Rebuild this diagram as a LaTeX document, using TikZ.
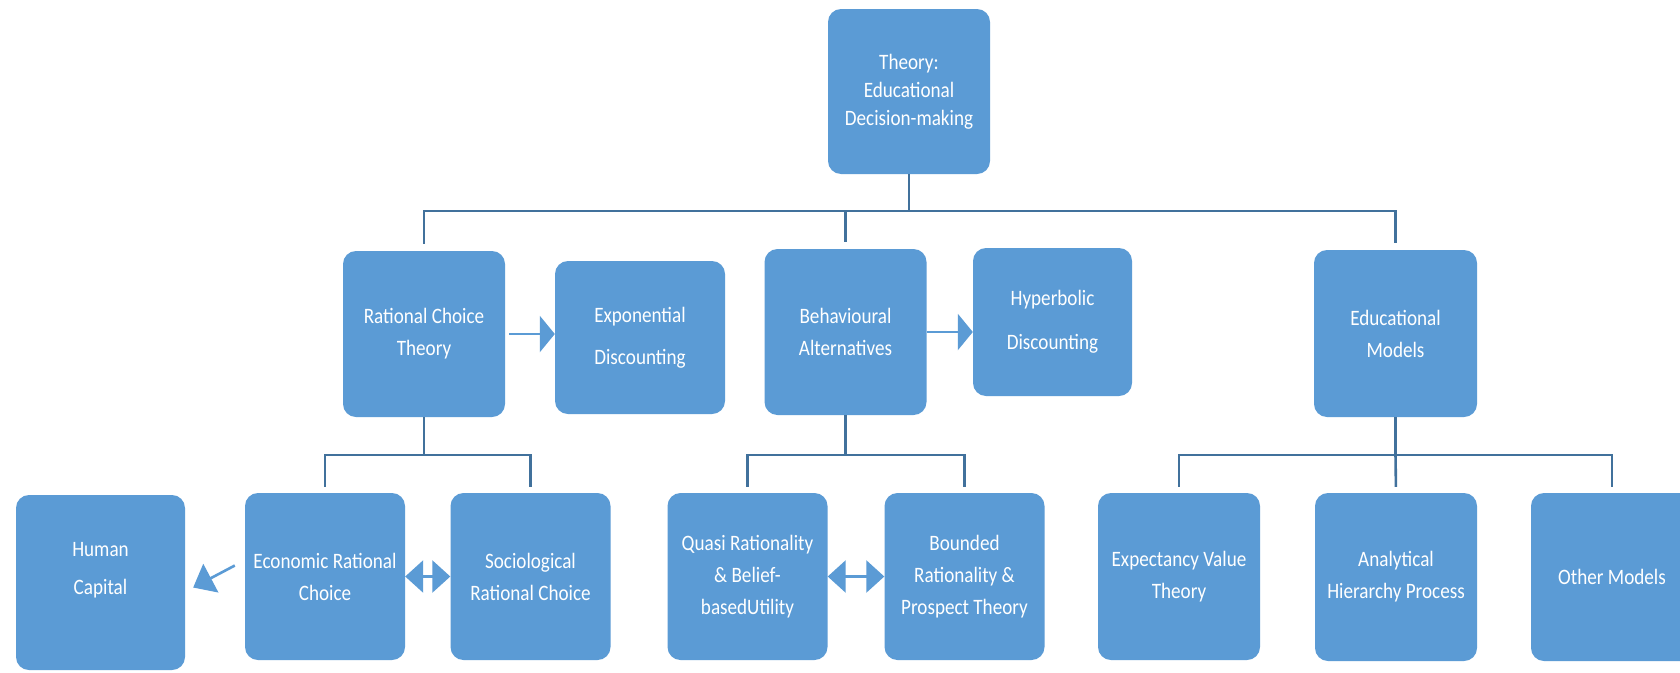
\documentclass[tikz,border=0pt]{standalone}
\usepackage{fontspec}
\setmainfont{Carlito}[FakeStretch=0.87]
\definecolor{boxblue}{RGB}{91,155,213}
\definecolor{linkblue}{RGB}{65,113,156}
\usetikzlibrary{arrows.meta,positioning,calc}

\begin{document}
\begin{tikzpicture}[x=1pt,y=-1pt,
  box/.style={rectangle,rounded corners=13pt,fill=boxblue,text=white,align=center,
    minimum width=162pt,minimum height=166pt,inner sep=0pt,font=\fontsize{22}{32}\selectfont},
  link/.style={draw=linkblue,line width=2.6pt},
  flow/.style={draw=boxblue,line width=2.6pt,-{Triangle[width=36pt,length=15pt]}},
  both/.style={draw=boxblue,line width=2.6pt,{Triangle[width=32pt,length=18pt]}-{Triangle[width=32pt,length=18pt]}}]
\fill[white] (0,0) rectangle (1680,672);
\useasboundingbox (0,0) rectangle (1680,672);

\node[box,minimum height=165pt,font=\fontsize{22}{28}\selectfont] (theory) at (909,91.5) {Theory:\\Educational\\Decision-making};

\node[box] (rct) at (424,334) {Rational Choice\\Theory};
\node[box,minimum width=170pt,minimum height=153pt] (expo) at (640,337.5) {Exponential\\[10pt]Discounting};
\node[box] (behav) at (845.5,332) {Behavioural\\Alternatives};
\node[box,minimum width=159pt,minimum height=148pt] (hyper) at (1052.5,322) {Hyperbolic\\[12pt]Discounting};
\node[box,minimum width=163pt,minimum height=167pt] (edmod) at (1395.5,333.5) {Educational\\Models};

\node[box,minimum width=169pt,minimum height=175pt] (human) at (100.5,582.5) {Human\\[6pt]Capital\\[-4pt]\mbox{}};
\node[box,minimum width=160pt,minimum height=167pt] (econ) at (325,576.5) {Economic Rational\\Choice};
\node[box,minimum width=160pt,minimum height=167pt] (socio) at (530.5,576.5) {Sociological\\Rational Choice};
\node[box,minimum width=160pt,minimum height=167pt] (quasi) at (747.5,576.5) {Quasi Rationality\\\& Belief-\\basedUtility};
\node[box,minimum width=160pt,minimum height=167pt] (bounded) at (964.5,576.5) {Bounded\\Rationality \&\\Prospect Theory};
\node[box,minimum height=167pt] (expect) at (1179,576.5) {Expectancy Value\\Theory};
\node[box,minimum height=168pt] (ahp) at (1396,577) {Analytical\\Hierarchy Process};
\node[box,minimum height=168pt] (other) at (1612,577) {Other Models};

\coordinate (topbus) at (909,211);
\coordinate (lowbus) at (0,455);

\draw[link] (theory.south) -- (topbus);
\draw[link,shorten <=7pt,shorten >=7pt] (rct.north) |- (topbus) -| (edmod.north);
\draw[link,shorten >=7pt] (behav.north |- topbus) -- (behav.north);

\draw[link] (rct.south) -- (rct.south |- lowbus);
\draw[link,shorten <=6pt,shorten >=6pt] (econ.north) |- (lowbus -| rct.south) -| (socio.north);
\draw[link] (behav.south) -- (behav.south |- lowbus);
\draw[link,shorten <=6pt,shorten >=6pt] (quasi.north) |- (lowbus -| behav.south) -| (bounded.north);
\draw[link] (edmod.south) -- (edmod.south |- lowbus);
\draw[link,shorten <=6pt,shorten >=6pt] (expect.north) |- (lowbus -| edmod.south) -| (other.north);
\draw[link,shorten >=6pt] (edmod.south |- lowbus) -- (ahp.north);

\draw[flow,shorten <=4pt] (rct.east) -- (rct.east -| expo.west);
\draw[flow] (behav.east) -- (behav.east -| hyper.west);
\draw[flow,-{Triangle[width=32pt,length=20pt]}] ([shift={(-10,-11)}]econ.west) -- ([shift={(8,5)}]human.east);
\draw[both] (econ) -- (socio);
\draw[both] (quasi) -- (bounded);
\end{tikzpicture}
\end{document}
